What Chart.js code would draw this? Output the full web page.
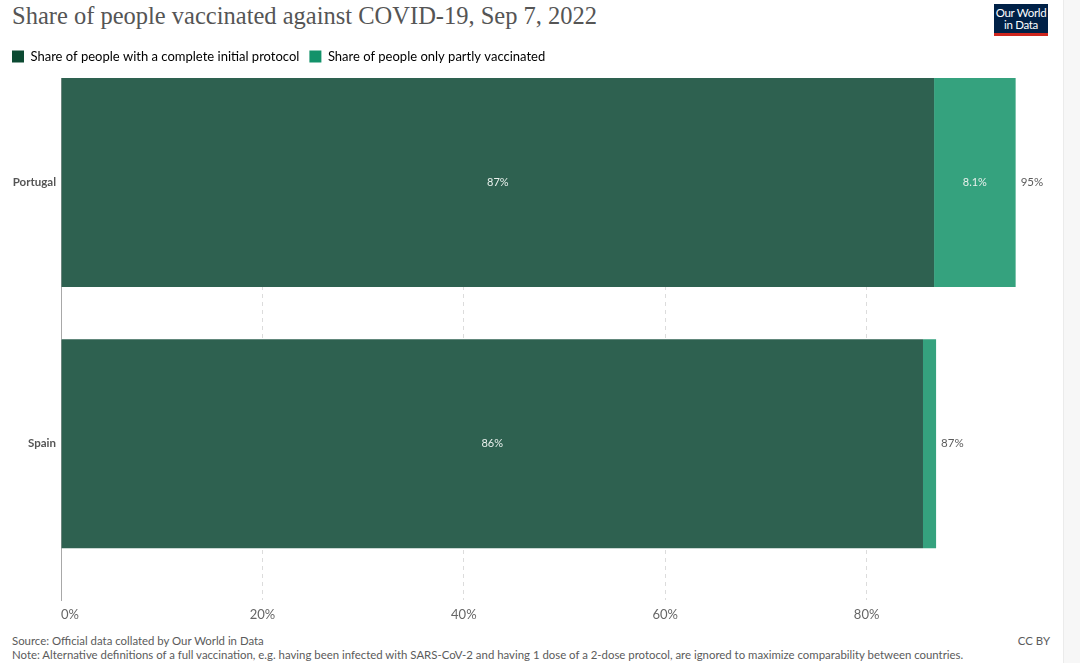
<!DOCTYPE html>
<html>
<head>
<meta charset="utf-8">
<script src="https://cdn.jsdelivr.net/npm/chart.js@4.4.1/dist/chart.umd.min.js"></script>
<style>
  body { margin: 0; width: 1080px; height: 663px; background: #fff; font-family: Lato, sans-serif; position: relative; overflow: hidden; }
  #title { position: absolute; left: 12px; top: 2px; font-family: "Liberation Serif", serif; font-size: 24.5px; color: #555; white-space: nowrap; }
  #logo { position: absolute; left: 994px; top: 4px; width: 54px; height: 26px; background: #002147; border-bottom: 3px solid #ce261e; color: #fff; font-size: 11.5px; line-height: 12px; text-align: center; padding-top: 3px; letter-spacing: -0.3px; }
  #wrap { position: absolute; left: 0; top: 40px; width: 1080px; height: 590px; }
  .foot { position: absolute; left: 12px; font-size: 11.4px; color: #5b5b5b; white-space: nowrap; }
  #cc { position: absolute; right: 30px; top: 634px; font-size: 11.4px; color: #5b5b5b; }
  #strip { position: absolute; left: 1063px; top: 0; width: 17px; height: 663px; background: #f7f7f7; border-left: 1px solid #ebebeb; }
</style>
</head>
<body>
<div id="title">Share of people vaccinated against COVID-19, Sep 7, 2022</div>
<div id="logo">Our World<br>in Data</div>
<div id="wrap"><canvas id="chart"></canvas></div>
<div class="foot" style="top:634px">Source: Official data collated by Our World in Data</div>
<div class="foot" style="top:648px">Note: Alternative definitions of a full vaccination, e.g. having been infected with SARS-CoV-2 and having 1 dose of a 2-dose protocol, are ignored to maximize comparability between countries.</div>
<div id="cc">CC BY</div>
<div id="strip"></div>
<script>
// values (% of population)
const countries = ['Portugal', 'Spain'];
const completeProtocol = [86.7, 85.6];
const partlyVaccinated = [8.1, 1.3];
const xTicks = [0, 20, 40, 60, 80, 100];

const fmt = v => Number(v.toPrecision(2)) + '%';

// value labels inside the bars and the total at the end
const barLabels = {
    id: 'barLabels',
    afterDatasetsDraw(chart) {
        let ctx = chart.ctx;
        ctx.save();
        ctx.textBaseline = 'middle';
        chart.data.datasets.forEach((ds, di) => {
            chart.getDatasetMeta(di).data.forEach((bar, i) => {
                let w = bar.x - bar.base;
                if (w > 30) {
                    ctx.font = '11px Lato';
                    ctx.fillStyle = '#e9f0ec';
                    ctx.textAlign = 'center';
                    ctx.fillText(fmt(ds.data[i].x), (bar.x + bar.base) / 2, bar.y);
                }
                if (di === chart.data.datasets.length - 1) {
                    ctx.font = '11.5px Lato';
                    ctx.fillStyle = '#5b5b5b';
                    ctx.textAlign = 'left';
                    ctx.fillText(fmt(completeProtocol[i] + partlyVaccinated[i]), bar.x + 5, bar.y);
                }
            });
        });
        ctx.restore();
    }
};

// a bit more room under the legend
const legendGap = {
    id: 'legendGap',
    beforeInit(chart) {
        let fit = chart.legend.fit;
        chart.legend.fit = function () {
            fit.bind(chart.legend)();
            this.height += 5;
        };
    }
};

let legendColors = ['#0c4a32', '#13926a'];

new Chart(document.getElementById('chart'), {
    type: 'bar',
    data: {
        datasets: [{
            label: 'Share of people with a complete initial protocol',
            data: completeProtocol.map((v, i) => ({x: v, y: i})),
            backgroundColor: '#2e6150'
        }, {
            label: 'Share of people only partly vaccinated',
            data: partlyVaccinated.map((v, i) => ({x: v, y: i})),
            backgroundColor: '#35a27e'
        }]
    },
    options: {
        indexAxis: 'y',
        responsive: true,
        maintainAspectRatio: false,
        animation: false,
        barPercentage: 0.8,
        categoryPercentage: 1,
        layout: { padding: { left: 2, right: 12, top: 0, bottom: 0 } },
        plugins: {
            tooltip: { enabled: false },
            legend: {
                align: 'start',
                labels: {
                    boxWidth: 12, boxHeight: 12, padding: 10,
                    color: '#333', font: { family: 'Lato', size: 13 },
                    generateLabels: chart => chart.data.datasets.map((ds, i) => ({
                        text: ds.label, fillStyle: legendColors[i], strokeStyle: legendColors[i], lineWidth: 0, datasetIndex: i
                    }))
                }
            }
        },
        scales: {
            x: {
                type: 'linear', stacked: true, min: 0, max: 100,
                afterBuildTicks: s => { s.ticks = xTicks.map(v => ({value: v})); },
                ticks: {
                    align: 'inner', padding: 7, color: '#666', font: { family: 'Lato', size: 13 },
                    callback: v => v === 100 ? '' : v + '%'
                },
                grid: { drawTicks: false, color: c => c.tick && c.tick.value === 0 ? 'rgba(0,0,0,0)' : '#dcdcdc' },
                border: { display: false, dash: [4, 4] }
            },
            y: {
                type: 'linear', stacked: true, reverse: true, offset: false, min: -0.4, max: 1.6,
                afterBuildTicks: s => { s.ticks = countries.map((c, i) => ({value: i})); },
                afterFit: s => { s.width = 59; },
                ticks: {
                    padding: 5, color: '#555', font: { family: 'Lato', size: 11.5, weight: 'bold' },
                    callback: v => countries[v]
                },
                grid: { display: false, drawTicks: false },
                border: { display: true, color: '#a8a8a8', width: 1 }
            }
        }
    },
    plugins: [barLabels, legendGap]
});
</script>
</body>
</html>
